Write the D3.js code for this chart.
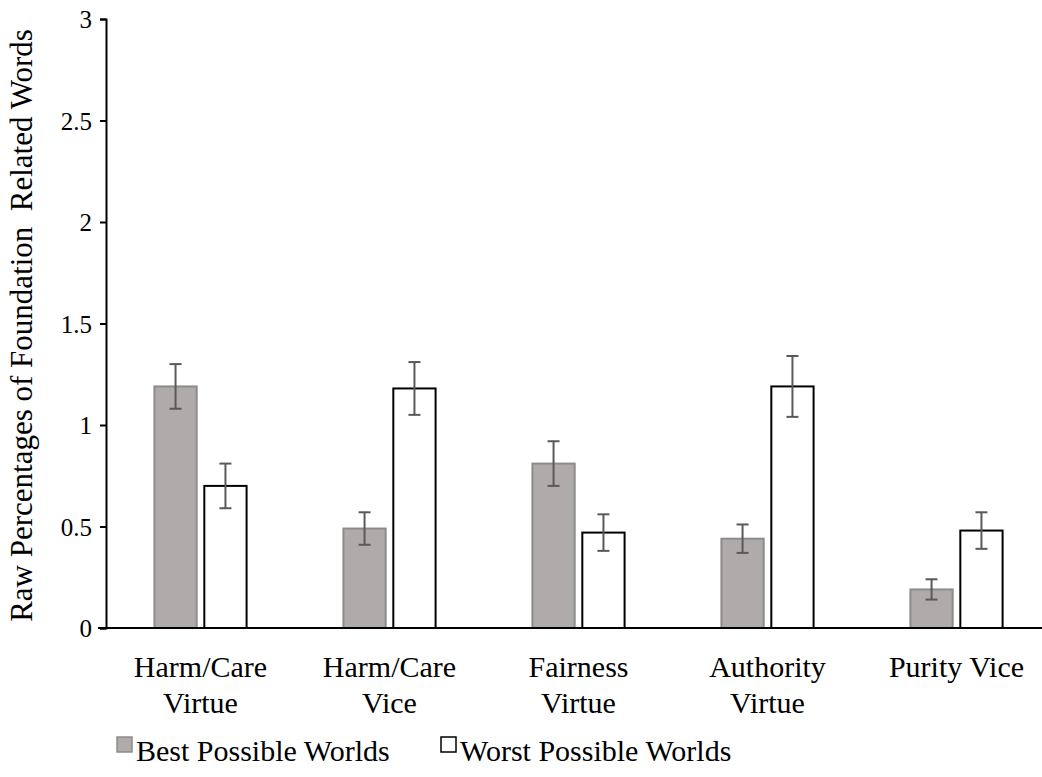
<!DOCTYPE html>
<html>
<head>
<meta charset="utf-8">
<script src="https://cdn.jsdelivr.net/npm/d3@7"></script>
<style>
  html, body { margin: 0; padding: 0; background: #fff; }
  #chart text, #chart tspan { font-family: "Liberation Serif", "Times New Roman", serif; }
</style>
</head>
<body>
<svg id="chart" width="1042" height="777"></svg>
<script>
// Categories (two-line labels) and the two series with their error bounds
const categories = [
  ["Harm/Care", "Virtue"],
  ["Harm/Care", "Vice"],
  ["Fairness", "Virtue"],
  ["Authority", "Virtue"],
  ["Purity Vice"]
];
const seriesNames = ["Best Possible Worlds", "Worst Possible Worlds"];
const bestValues  = [1.19, 0.49, 0.81, 0.44, 0.19];
const bestErr     = [0.11, 0.08, 0.11, 0.07, 0.05];
const worstValues = [0.70, 1.18, 0.47, 1.19, 0.48];
const worstErr    = [0.11, 0.13, 0.09, 0.15, 0.09];
const yTicks = [0, 0.5, 1, 1.5, 2, 2.5, 3];
const yTitle = "Raw Percentages of Foundation  Related Words";

const FONT = '"Liberation Serif"';
const svg = d3.select("#chart");
const x0 = 106, x1 = 1051, yBottom = 628, yTop = 19;

const x = d3.scaleBand().domain(d3.range(categories.length)).range([x0, x1]).paddingInner(0).paddingOuter(0);
const xs = d3.scaleBand().domain([0, 1]).range([0, x.bandwidth()]).paddingInner(0.113).paddingOuter(0.95);
const y = d3.scaleLinear().domain([0, 3]).range([yBottom, yTop]);

const styles = [
  { fill: "#afabab", stroke: "#8c8c8c" },
  { fill: "#ffffff", stroke: "#000000" }
];
const series = [
  { values: bestValues, err: bestErr },
  { values: worstValues, err: worstErr }
];

// Bars
series.forEach((s, si) => {
  const g = svg.append("g");
  g.selectAll("rect").data(s.values).join("rect")
    .attr("x", (d, i) => x(i) + xs(si) + 1)
    .attr("y", d => y(d))
    .attr("width", xs.bandwidth() - 2)
    .attr("height", d => y(0) - y(d))
    .attr("fill", styles[si].fill)
    .attr("stroke", styles[si].stroke)
    .attr("stroke-width", 2);
});

// Error bars
series.forEach((s, si) => {
  const g = svg.append("g").attr("stroke", "#595959").attr("stroke-width", 2).attr("fill", "none");
  s.values.forEach((v, i) => {
    const cx = x(i) + xs(si) + xs.bandwidth() / 2;
    const hi = y(v + s.err[i]), lo = y(v - s.err[i]);
    g.append("line").attr("x1", cx).attr("x2", cx).attr("y1", hi).attr("y2", lo);
    g.append("line").attr("x1", cx - 6).attr("x2", cx + 6).attr("y1", hi).attr("y2", hi);
    g.append("line").attr("x1", cx - 6).attr("x2", cx + 6).attr("y1", lo).attr("y2", lo);
  });
});

// Y axis
const yAxis = d3.axisLeft(y).tickValues(yTicks).tickSize(6).tickPadding(8).tickFormat(d3.format("~g"));
const ya = svg.append("g").attr("transform", `translate(${x0},0)`).call(yAxis)
  .attr("font-family", "Liberation Serif").attr("font-size", 25);
ya.select(".domain").attr("stroke", "#000").attr("stroke-width", 2);
ya.selectAll(".tick line").attr("stroke", "#000").attr("stroke-width", 2);
ya.selectAll(".tick text").attr("fill", "#000").attr("dy", "0.34em").style("font-family", FONT);

// X axis baseline
svg.append("line").attr("x1", x0 - 8).attr("x2", 1042).attr("y1", yBottom).attr("y2", yBottom)
  .attr("stroke", "#000").attr("stroke-width", 2);

// Category labels
const cl = svg.append("g").attr("font-size", 30).attr("text-anchor", "middle").attr("fill", "#000");
categories.forEach((lines, i) => {
  const cx = x(i) + x.bandwidth() / 2;
  const t = cl.append("text").attr("x", cx).attr("y", 677).style("font-family", FONT);
  lines.forEach((ln, k) => t.append("tspan").attr("x", cx).attr("dy", k === 0 ? 0 : 36).text(ln));
});

// Y axis title
svg.append("text")
  .attr("transform", `translate(32,${(yTop + yBottom) / 2 + 2}) rotate(-90)`)
  .attr("text-anchor", "middle").attr("font-size", 31).style("font-family", FONT)
  .style("white-space", "pre").attr("fill", "#000")
  .text(yTitle);

// Legend
const legend = svg.append("g").attr("font-size", 30).attr("fill", "#000");
const legendX = [117, 441];
seriesNames.forEach((name, si) => {
  const lg = legend.append("g").attr("transform", `translate(${legendX[si]},737)`);
  lg.append("rect").attr("x", 0).attr("y", 0).attr("width", 15).attr("height", 15)
    .attr("fill", styles[si].fill).attr("stroke", styles[si].stroke).attr("stroke-width", 1.5);
  lg.append("text").attr("x", 19).attr("y", 24).style("font-family", FONT).text(name);
});
</script>
</body>
</html>
